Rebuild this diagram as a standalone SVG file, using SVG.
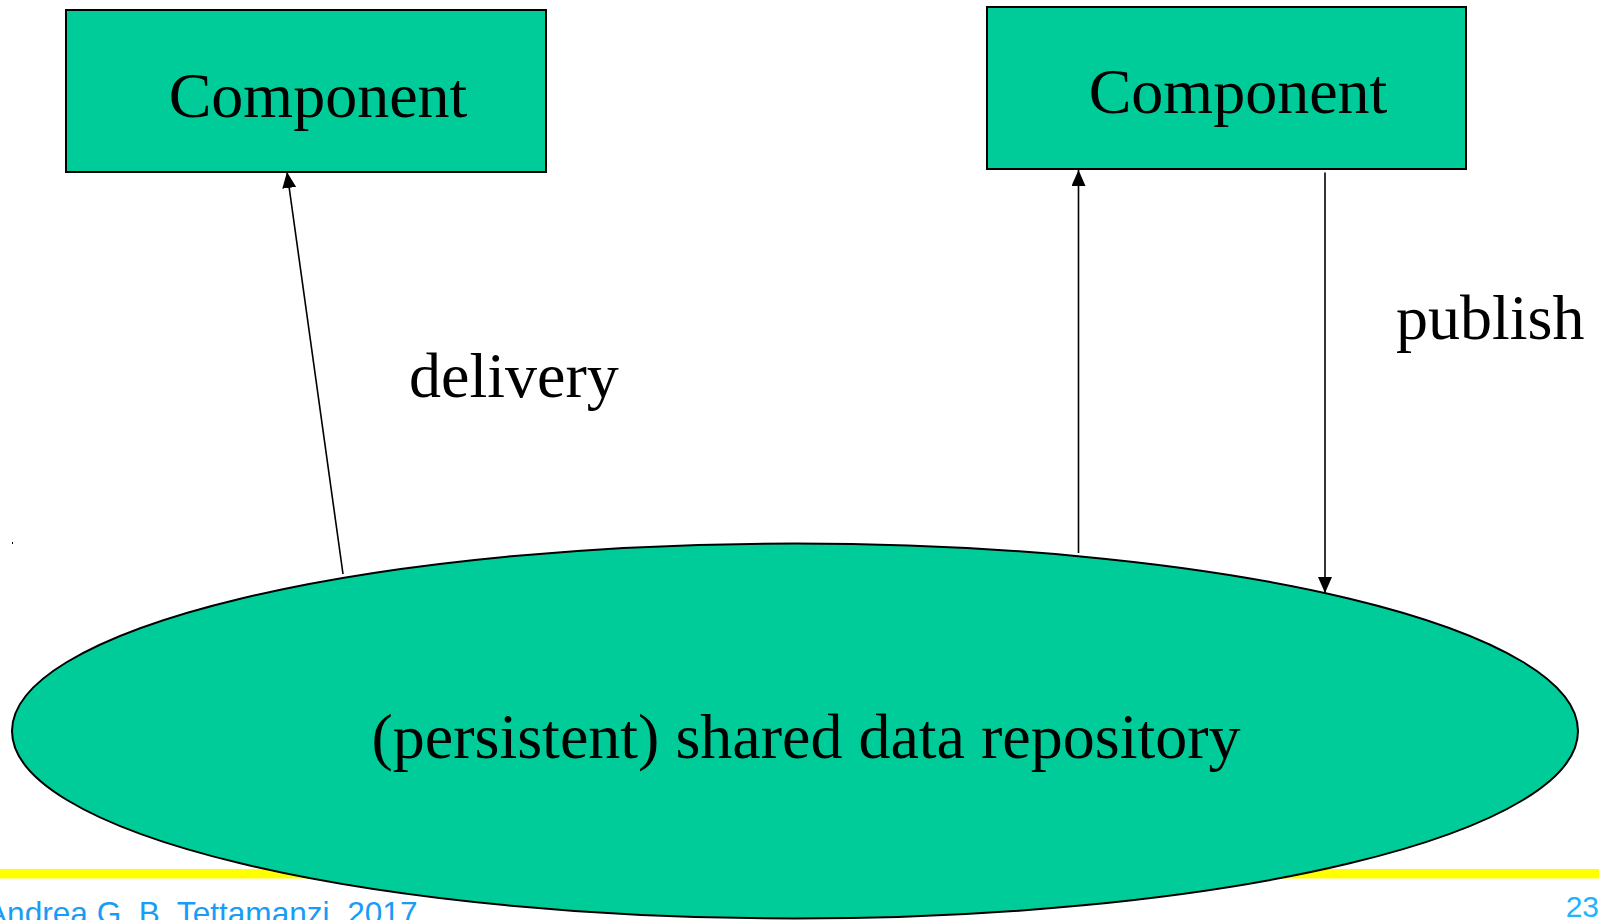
<svg xmlns="http://www.w3.org/2000/svg" width="1599" height="920" viewBox="0 0 1599 920">
<style>
.box{fill:#00cc99;stroke:#000;stroke-width:2}
.lbl{font-family:"Liberation Serif","Times New Roman",serif;font-size:64px;fill:#000}
.conn{stroke:#000;stroke-width:1.6;fill:none}
.foot{font-family:"Liberation Sans",Arial,sans-serif;font-size:31.6px;fill:#1a9bf5}
</style>
<defs>
<marker id="arr" viewBox="0 0 16 14" refX="16" refY="7" markerWidth="16" markerHeight="14" markerUnits="userSpaceOnUse" orient="auto">
<path d="M0,0 L16,7 L0,14 z" fill="#000"/>
</marker>
</defs>
<rect x="0" y="0" width="1599" height="920" fill="#fff"/>
<rect x="0" y="869" width="1599" height="9.5" fill="#ffff00"/>
<g id="repository">
<ellipse class="box" cx="795" cy="731" rx="783" ry="187.5"/>
<text class="lbl" x="806" y="758" text-anchor="middle">(persistent) shared data repository</text>
</g>
<g id="component-left">
<rect class="box" x="66" y="10" width="480" height="162"/>
<text class="lbl" x="318" y="117" text-anchor="middle">Component</text>
</g>
<g id="component-right">
<rect class="box" x="987" y="7" width="479" height="162"/>
<text class="lbl" x="1238" y="113" text-anchor="middle">Component</text>
</g>
<g id="connectors">
<line class="conn" x1="343" y1="574" x2="287" y2="172" marker-end="url(#arr)"/>
<line class="conn" x1="1078.5" y1="553" x2="1078.5" y2="170" marker-end="url(#arr)"/>
<line class="conn" x1="1325" y1="172.5" x2="1325" y2="593" marker-end="url(#arr)"/>
</g>
<g id="labels">
<text class="lbl" x="409" y="397">delivery</text>
<text class="lbl" x="1396" y="339">publish</text>
</g>
<rect x="12" y="542" width="1" height="2" fill="#000"/>
<g id="footer">
<text class="foot" x="-14" y="924">Andrea G. B. Tettamanzi, 2017</text>
<text class="foot" x="1599" y="917" text-anchor="end" font-size="30" style="fill:#22b2ff;font-size:30px">23</text>
</g>
</svg>
